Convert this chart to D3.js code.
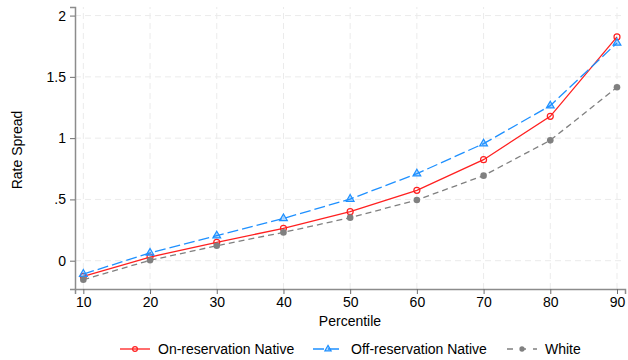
<!DOCTYPE html>
<html>
<head>
<meta charset="utf-8">
<script src="https://cdn.jsdelivr.net/npm/d3@7"></script>
<style>
  body { margin: 0; background: #fff; }
  svg { font-family: "Liberation Sans", Arial, sans-serif; }
</style>
</head>
<body>
<svg id="chart" width="628" height="360"></svg>
<script>
const percentiles = [10, 20, 30, 40, 50, 60, 70, 80, 90];
const onReservation = [-0.128, 0.03, 0.15, 0.264, 0.40, 0.574, 0.824, 1.178, 1.826];
const offReservation = [-0.109, 0.063, 0.204, 0.345, 0.503, 0.71, 0.955, 1.265, 1.777];
const white = [-0.155, 0.003, 0.122, 0.231, 0.351, 0.495, 0.694, 0.982, 1.415];
const yTicks = [0, 0.5, 1, 1.5, 2];
const yTickLabels = ["0", ".5", "1", "1.5", "2"];
const seriesNames = ["On-reservation Native", "Off-reservation Native", "White"];

const svg = d3.select("#chart");
const x = d3.scaleLinear().domain([8.75, 91.2]).range([75, 625]);
const y = d3.scaleLinear().domain([-0.231, 2.07]).range([289, 7]);

// gridlines
const grid = svg.append("g");
grid.selectAll(".vg").data(percentiles).join("line")
  .attr("x1", d => x(d)).attr("x2", d => x(d))
  .attr("y1", y.range()[0]).attr("y2", y.range()[1])
  .attr("stroke", "#ebebeb").attr("stroke-width", 1).attr("stroke-dasharray", "6,4");
grid.selectAll(".hg").data(yTicks).join("line")
  .attr("x1", x.range()[0]).attr("x2", x.range()[1])
  .attr("y1", d => y(d)).attr("y2", d => y(d))
  .attr("stroke", "#ebebeb").attr("stroke-width", 1).attr("stroke-dasharray", "6,4");

// axes
const xAxis = svg.append("g").attr("transform", `translate(0,${y.range()[0]})`)
  .call(d3.axisBottom(x).tickValues(percentiles).tickSize(5).tickPadding(3));
const yAxis = svg.append("g").attr("transform", `translate(${x.range()[0]},0)`)
  .call(d3.axisLeft(y).tickValues(yTicks).tickFormat((d, i) => yTickLabels[i]).tickSize(5).tickPadding(4));
[xAxis, yAxis].forEach(a => {
  a.select(".domain").attr("stroke", "#8c8c8c").attr("stroke-width", 1.5);
  a.selectAll(".tick line").attr("stroke", "#6e6e6e").attr("stroke-width", 1);
  a.selectAll(".tick text").attr("font-size", 14).attr("fill", "#000");
});

svg.append("text").attr("x", 350).attr("y", 326).attr("text-anchor", "middle")
  .attr("font-size", 14).text("Percentile");
svg.append("text").attr("transform", "translate(22,150) rotate(-90)").attr("text-anchor", "middle")
  .attr("font-size", 14).text("Rate Spread");

const series = [
  { name: seriesNames[0], values: onReservation, color: "#ff2020", dash: null, marker: "ocircle" },
  { name: seriesNames[1], values: offReservation, color: "#1e90ff", dash: "11,4", marker: "triangle" },
  { name: seriesNames[2], values: white, color: "#808080", dash: "6,4", marker: "circle" }
];

const line = d3.line().x((d, i) => x(percentiles[i])).y(d => y(d));

function drawMarker(g, s, cx, cy, scale) {
  if (s.marker === "ocircle") {
    g.append("circle").attr("cx", cx).attr("cy", cy).attr("r", 3 * scale)
      .attr("fill", "none").attr("stroke", s.color).attr("stroke-width", 1.2);
  } else if (s.marker === "triangle") {
    g.append("path").attr("d", d3.symbol().type(d3.symbolTriangle).size(26 * scale * scale)())
      .attr("transform", `translate(${cx},${cy})`)
      .attr("fill", s.color).attr("fill-opacity", 0.35).attr("stroke", s.color).attr("stroke-width", 1.2);
  } else {
    g.append("circle").attr("cx", cx).attr("cy", cy).attr("r", 3.3 * scale).attr("fill", s.color);
  }
}

const plot = svg.append("g");
series.forEach(s => {
  plot.append("path").datum(s.values).attr("d", line)
    .attr("fill", "none").attr("stroke", s.color).attr("stroke-width", 1.3)
    .attr("stroke-dasharray", s.dash);
  const mg = plot.append("g");
  s.values.forEach((v, i) => drawMarker(mg, s, x(percentiles[i]), y(v), 1));
});

// legend
const legendX = [120, 313, 507];
const legendY = 349;
series.forEach((s, i) => {
  const g = svg.append("g");
  g.append("line").attr("x1", legendX[i]).attr("x2", legendX[i] + 30)
    .attr("y1", legendY).attr("y2", legendY)
    .attr("stroke", s.color).attr("stroke-width", 1.3)
    .attr("stroke-dasharray", s.dash ? (i === 1 ? "11,4" : "6,7") : null);
  drawMarker(g, s, legendX[i] + 15, legendY, 0.8);
  g.append("text").attr("x", legendX[i] + 38).attr("y", legendY + 5)
    .attr("font-size", 14).text(s.name);
});
</script>
</body>
</html>
